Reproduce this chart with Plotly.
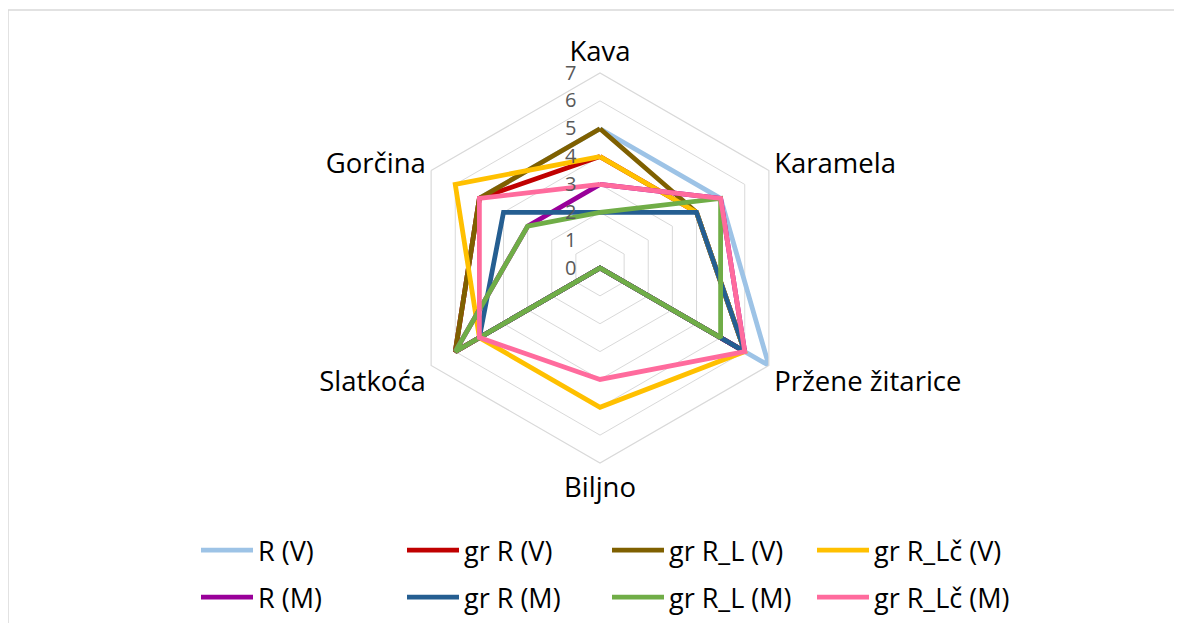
import plotly.graph_objects as go

categories = ["Kava", "Karamela", "Pržene žitarice", "Biljno", "Slatkoća", "Gorčina"]

series_names = ["R (V)", "gr R (V)", "gr R_L (V)", "gr R_Lč (V)",
                "R (M)", "gr R (M)", "gr R_L (M)", "gr R_Lč (M)"]

r_v = [5, 5, 7, 0, 6, 5]
gr_r_v = [4, 4, 6, 0, 6, 5]
gr_r_l_v = [5, 4, 6, 0, 6, 5]
gr_r_lc_v = [4, 4, 6, 5, 5, 6]
r_m = [3, 5, 6, 0, 6, 3]
gr_r_m = [2, 4, 6, 0, 5, 4]
gr_r_l_m = [2, 5, 5, 0, 6, 3]
gr_r_lc_m = [3, 5, 6, 4, 5, 5]

series_values = [r_v, gr_r_v, gr_r_l_v, gr_r_lc_v, r_m, gr_r_m, gr_r_l_m, gr_r_lc_m]
colors = ["#9dc3e6", "#c00000", "#7f6000", "#ffc000",
          "#990099", "#255e91", "#70ad47", "#ff6b9d"]
# legend column for each series (4 columns, 2 rows)
legend_ids = ["legend", "legend2", "legend3", "legend4",
              "legend", "legend2", "legend3", "legend4"]

radial_ticks = [0, 1, 2, 3, 4, 5, 6, 7]

FONT = "Open Sans"
W, H = 1174, 617
cx, cy, R = 592, 260, 195
legend_top = 518

fig = go.Figure()
for i, (name, vals, col, lg) in enumerate(zip(series_names, series_values, colors, legend_ids)):
    fig.add_trace(go.Scatterpolar(
        r=vals + vals[:1],
        theta=categories + categories[:1],
        mode="lines",
        name=name,
        legend=lg,
        legendgroup="g%d" % i,
        legendrank=(i // 4) + 1,
        line=dict(color=col, width=4.8),
        hoverinfo="skip",
    ))

leg_font = dict(size=27, color="black", family=FONT)
leg_common = dict(orientation="v", yanchor="top", y=(H - legend_top) / H, xanchor="left",
                  font=leg_font, tracegroupgap=9, bgcolor="rgba(0,0,0,0)",
                  itemwidth=52, traceorder="grouped")
col_x = [188, 394, 599, 804]

fig.update_layout(
    width=W, height=H,
    margin=dict(l=0, r=0, t=0, b=0),
    paper_bgcolor="white",
    plot_bgcolor="white",
    font=dict(family=FONT, color="black"),
    showlegend=True,
    polar=dict(
        domain=dict(x=[(cx - R) / W, (cx + R) / W],
                    y=[(H - cy - R) / H, (H - cy + R) / H]),
        bgcolor="white",
        gridshape="linear",
        radialaxis=dict(
            range=[0, 7],
            tickvals=radial_ticks,
            angle=90,
            tickangle=90,
            side="counterclockwise",
            showline=False,
            ticks="outside",
            ticklen=16,
            tickcolor="rgba(0,0,0,0)",
            gridcolor="#d9d9d9",
            gridwidth=1.2,
            tickfont=dict(size=20, color="#595959", family=FONT),
        ),
        angularaxis=dict(
            rotation=90,
            direction="clockwise",
            showgrid=False,
            showline=True,
            linecolor="#d9d9d9",
            linewidth=1.2,
            ticks="",
            tickfont=dict(size=27.5, color="black", family=FONT),
        ),
    ),
    legend=dict(x=col_x[0] / W, **leg_common),
    legend2=dict(x=col_x[1] / W, **leg_common),
    legend3=dict(x=col_x[2] / W, **leg_common),
    legend4=dict(x=col_x[3] / W, **leg_common),
    shapes=[dict(type="rect", xref="paper", yref="paper",
                 x0=0, x1=1.05, y0=-0.05, y1=1 - 2 / H,
                 line=dict(color="#d9d9d9", width=1.5), fillcolor="rgba(0,0,0,0)",
                 layer="below")],
)

fig.write_html("out.html")
